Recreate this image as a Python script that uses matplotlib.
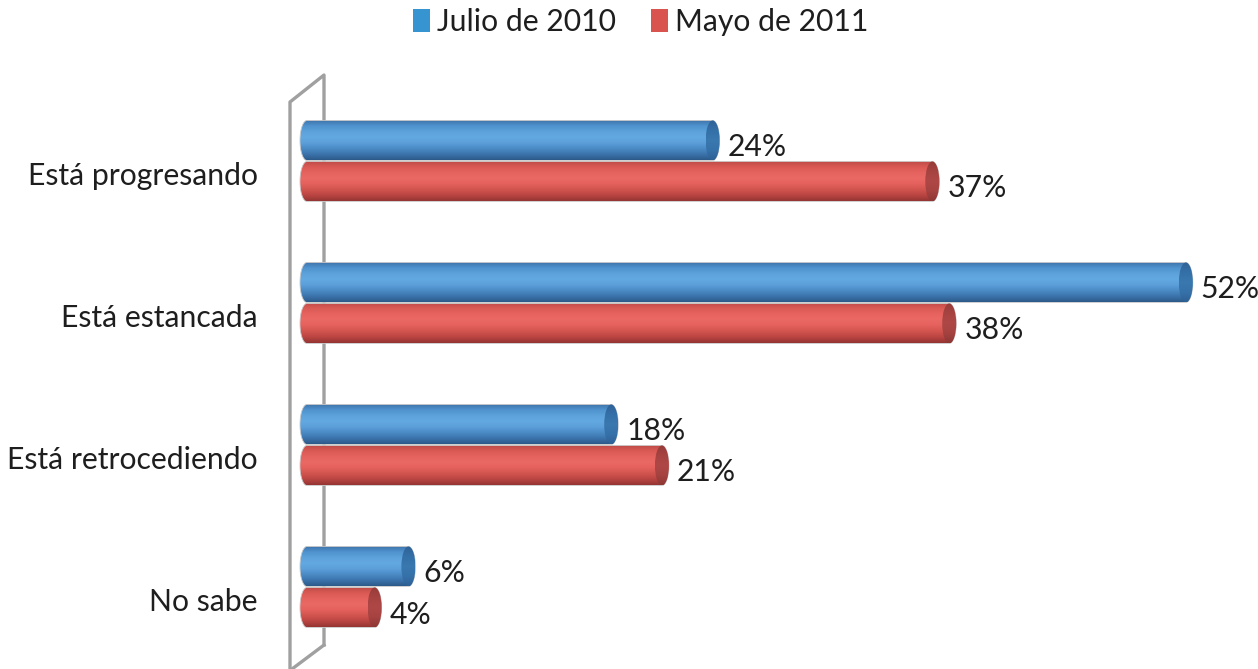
import numpy as np
import matplotlib
matplotlib.use('Agg')
import matplotlib.pyplot as plt
from matplotlib.path import Path
from matplotlib.patches import PathPatch, Ellipse, Rectangle
from matplotlib.colors import to_rgb

categories = ['Está progresando', 'Está estancada', 'Está retrocediendo', 'No sabe']
series_names = ['Julio de 2010', 'Mayo de 2011']
julio_2010 = [24, 52, 18, 6]
mayo_2011 = [37, 38, 21, 4]

plt.rcParams['font.family'] = ['Lato', 'DejaVu Sans']
TXT = '#1E1E1E'
FS = 21.7

W, H, DPI = 1258, 669, 100
fig = plt.figure(figsize=(W / DPI, H / DPI), dpi=DPI)
ax = fig.add_axes([0, 0, 1, 1])
PXU = 16.9      # pixels per percent
X0 = 307        # pixel of 0 %
ROW = 142       # pixels per category
Y0 = 161        # pixel of first category centre
ax.set_xlim(-X0 / PXU, (W - X0) / PXU)
ax.set_ylim((H - Y0) / ROW, -Y0 / ROW)
ax.axis('off')

# wall (decoration, figure pixel coords)
def fp(px, py):
    return px / W, 1 - py / H
wall = [(324, 645), (324, 75), (290, 102), (290, 669)]
xs, ys = zip(*[fp(*p) for p in wall])
fig.add_artist(plt.Line2D(xs, ys, color='#A0A0A0', lw=2.4, transform=fig.transFigure, zorder=0))
xs, ys = zip(*[fp(*p) for p in [(324, 645), (292, 669)]])
fig.add_artist(plt.Line2D(xs, ys, color='#A0A0A0', lw=2.4, transform=fig.transFigure, zorder=0))

body_cols = {
    0: ['#3E74AC', '#5093CE', '#5DA2DB', '#63A9E1', '#5C9FD9', '#4B8BC6', '#3C74AC', '#2C5B8A'],
    1: ['#BE4A48', '#DA5A55', '#E6635F', '#EB6965', '#E4615D', '#D2544F', '#BA4542', '#953533'],
}
cap_cols = {
    0: ['#2F6296', '#3470A8', '#3A78B0', '#3672AA', '#2E6196'],
    1: ['#963B39', '#A64341', '#AE4846', '#A64341', '#8E3735'],
}
legend_cols = ['#3694D1', '#D9534F']

bar_h = 40 / ROW
off = 20.5 / ROW
rx = 7 / PXU


def grad(cols, n=64):
    c = np.array([to_rgb(x) for x in cols])
    t = np.linspace(0, 1, len(cols))
    tt = np.linspace(0, 1, n)
    arr = np.stack([np.interp(tt, t, c[:, k]) for k in range(3)], axis=1)
    return arr[:, None, :]


def cylinder(v, yc, s):
    top, bot = yc - bar_h / 2, yc + bar_h / 2
    t1 = np.linspace(-np.pi / 2, np.pi / 2, 40)
    t2 = np.linspace(np.pi / 2, 3 * np.pi / 2, 40)
    pts = [(0, top), (v, top)]
    pts += list(zip(v + rx * np.cos(t1), yc + bar_h / 2 * np.sin(t1)))
    pts += [(v, bot), (0, bot)]
    pts += list(zip(rx * np.cos(t2), yc + bar_h / 2 * np.sin(t2)))
    path = Path(pts + [pts[0]], closed=True)
    patch = PathPatch(path, facecolor='none', edgecolor='#C8C8C8', lw=0.6, zorder=3)
    ax.add_patch(patch)
    im = ax.imshow(grad(body_cols[s]), extent=[-rx, v + rx, bot, top], origin='upper',
                   aspect='auto', zorder=2, interpolation='bilinear')
    im.set_clip_path(patch)
    cap = Ellipse((v, yc), 2 * rx, bar_h, facecolor='none', edgecolor='none', zorder=4)
    ax.add_patch(cap)
    im2 = ax.imshow(grad(cap_cols[s]), extent=[v - rx, v + rx, bot, top], origin='upper',
                    aspect='auto', zorder=4, interpolation='bilinear')
    im2.set_clip_path(cap)


for s, vals in enumerate([julio_2010, mayo_2011]):
    for i, v in enumerate(vals):
        yc = i + (-off if s == 0 else off)
        cylinder(v, yc, s)
        ax.text(v + rx + 8 / PXU, yc + 7 / ROW, f'{v}%', ha='left', va='center',
                fontsize=FS, color=TXT, zorder=5)

for i, c in enumerate(categories):
    ax.text((258 - X0) / PXU, i + 15 / ROW, c, ha='right', va='center', fontsize=FS, color=TXT)

ax.set_xlim(-X0 / PXU, (W - X0) / PXU)
ax.set_ylim((H - Y0) / ROW, -Y0 / ROW)

handles = [Rectangle((0, 0), 1, 1, facecolor=c, edgecolor='none') for c in legend_cols]
fig.legend(handles, series_names, loc='center', bbox_to_anchor=(0.5095, 1 - 22 / H), ncol=2,
           frameon=False, fontsize=FS, handlelength=0.55, handleheight=0.75,
           handletextpad=0.25, columnspacing=1.15, labelcolor=TXT)

fig.savefig('out.png', dpi=DPI, facecolor='white')
